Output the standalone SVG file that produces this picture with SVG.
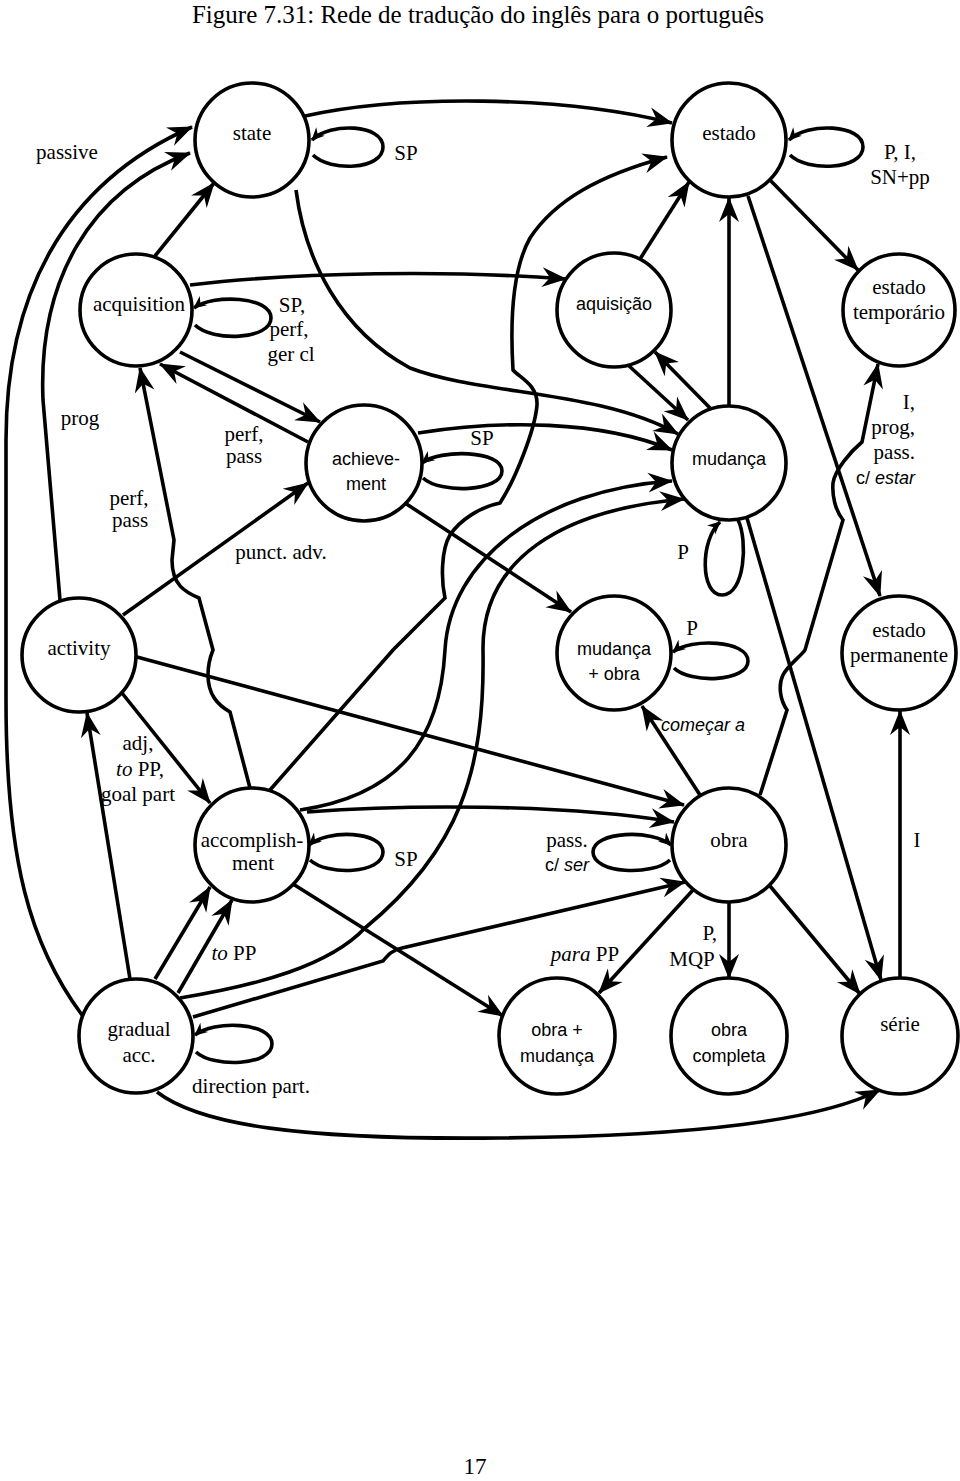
<svg xmlns="http://www.w3.org/2000/svg" width="960" height="1481" viewBox="0 0 960 1481">
<style>
.n{fill:#fff;stroke:#000;stroke-width:3.6}
.e{fill:none;stroke:#000;stroke-width:3.6;marker-end:url(#a)}
.l{fill:none;stroke:#000;stroke-width:3.6;marker-end:url(#s)}
.t{font-family:"Liberation Serif",serif;font-size:21px;text-anchor:middle;fill:#000}
.h{font-family:"Liberation Sans",sans-serif;font-size:18px;text-anchor:middle;fill:#000}
.i{font-style:italic}
</style>
<defs>
<marker id="a" viewBox="-26 -11 28 22" markerWidth="28" markerHeight="22" refX="0" refY="0" orient="auto" markerUnits="userSpaceOnUse"><path d="M1,0 L-24,-10 L-16,0 L-24,10 Z" fill="#000"/></marker>
<marker id="s" viewBox="-14 -7 15 14" markerWidth="15" markerHeight="14" refX="0" refY="0" orient="auto" markerUnits="userSpaceOnUse"><path d="M1,0 L-12,-6 L-8,0 L-12,6 Z" fill="#000"/></marker>
</defs>
<rect width="960" height="1481" fill="#fff"/>
<text x="478" y="23" class="t" style="font-size:25px">Figure 7.31: Rede de tradução do inglês para o português</text>
<text x="475" y="1474" class="t" style="font-size:23px">17</text>

<g id="connectors">
<path class="e" d="M82,1015 C30,945 6,860 6,700 L6,440 C6,300 60,185 192,127"/>
<path class="e" d="M60,600 L43,400 C38,280 90,190 190,153"/>
<path class="e" d="M155,256 L214,183"/>
<path class="e" d="M305,116 C400,95 560,95 672,123"/>
<path class="e" d="M190,285 C300,272 450,270 566,279"/>
<path class="e" d="M270,790 L393,650 L445,598 C441,580 441,550 450,535 C460,520 480,507 500,503 C515,480 535,430 537,405 C538,385 520,378 513,370 C510,320 512,270 530,238 C555,200 600,175 667,157"/>
<path class="e" d="M296,190 C305,260 340,330 410,368 C480,395 600,390 678,434"/>
<path class="e" d="M628,365 L688,420"/>
<path class="e" d="M710,408 L655,352"/>
<path class="e" d="M418,433 C500,420 600,420 672,450"/>
<path class="e" d="M300,810 C400,795 440,740 445,650 C450,560 540,490 672,481"/>
<path class="e" d="M180,998 C260,985 330,965 365,928 C460,850 485,770 483,650 C482,560 560,510 684,499"/>
<path class="e" d="M307,812 C400,805 560,803 674,822"/>
<path class="e" d="M137,657 L684,805"/>
<path class="e" d="M122,693 L210,803"/>
<path class="e" d="M123,615 L308,483"/>
<path class="e" d="M130,979 L87,713"/>
<path class="e" d="M250,788 L230,712 C218,705 208,695 208,675 C208,662 211,655 213,650 L199,598 C185,592 172,585 172,560 L174,540 L140,368"/>
<path class="e" d="M308,442 L160,364"/>
<path class="e" d="M180,352 L320,422"/>
<path class="e" d="M405,503 L571,612"/>
<path class="e" d="M700,795 L642,706"/>
<path class="e" d="M760,795 L787,710 C780,700 778,685 783,675 C788,665 800,657 805,650 L843,520 C835,510 832,495 833,483 C835,470 850,452 862,442 L878,364"/>
<path class="e" d="M747,518 L881,980"/>
<path class="e" d="M748,196 L880,596"/>
<path class="e" d="M770,180 L858,270"/>
<path class="e" d="M640,259 L689,182"/>
<path class="e" d="M729,405 L729,198"/>
<path class="e" d="M729,902 L729,978"/>
<path class="e" d="M770,886 L860,994"/>
<path class="e" d="M900,978 L900,711"/>
<path class="e" d="M693,890 L599,993"/>
<path class="e" d="M193,1017 L383,961 C388,955 392,950 402,948 L685,882"/>
<path class="e" d="M293,884 L503,1016"/>
<path class="e" d="M155,979 L210,887"/>
<path class="e" d="M178,993 L232,900"/>
<path class="e" d="M157,1092 C200,1125 300,1140 500,1138 C700,1136 820,1120 880,1090"/>
<path class="l" d="M313,155 C330,172 383,170 383,147 C383,124 330,122 312,140"/>
<path class="l" d="M790,155 C807,172 863,170 863,147 C863,124 807,122 789,140"/>
<path class="l" d="M195,325 C212,342 271,340 271,318 C271,296 212,294 194,308"/>
<path class="l" d="M423,478 C440,494 502,492 502,471 C502,450 440,449 422,463"/>
<path class="l" d="M310,860 C327,876 383,874 383,852 C383,831 327,829 309,845"/>
<path class="l" d="M196,1052 C213,1068 272,1066 272,1044 C272,1022 213,1020 195,1035"/>
<path class="l" d="M674,668 C690,684 748,682 748,661 C748,640 690,638 673,652"/>
<path class="l" d="M670,860 C653,876 593,874 593,852 C593,831 653,829 671,845"/>
<path class="l" d="M738,520 C748,540 745,595 722,595 C700,595 700,540 720,522"/>
</g>

<g id="state"><circle class="n" cx="252" cy="140" r="57"/><text class="t" x="252" y="140">state</text></g>
<g id="estado"><circle class="n" cx="729" cy="140" r="57"/><text class="t" x="729" y="140">estado</text></g>
<g id="acquisition"><circle class="n" cx="136" cy="310" r="56"/><text class="t" x="139" y="311">acquisition</text></g>
<g id="aquisicao"><circle class="n" cx="614" cy="310" r="57"/><text class="h" x="614" y="310">aquisição</text></g>
<g id="estado-temporario"><circle class="n" cx="899" cy="310" r="56"/><text class="t" x="899" y="294">estado</text><text class="t" x="899" y="319">temporário</text></g>
<g id="achievement"><circle class="n" cx="364" cy="463" r="58"/><text class="h" x="366" y="465">achieve-</text><text class="h" x="366" y="490">ment</text></g>
<g id="mudanca"><circle class="n" cx="729" cy="463" r="57"/><text class="h" x="729" y="465">mudança</text></g>
<g id="activity"><circle class="n" cx="79" cy="655" r="57"/><text class="t" x="79" y="655">activity</text></g>
<g id="mudanca-obra"><circle class="n" cx="614" cy="653" r="57"/><text class="h" x="614" y="655">mudança</text><text class="h" x="614" y="680">+ obra</text></g>
<g id="estado-permanente"><circle class="n" cx="899" cy="653" r="57"/><text class="t" x="899" y="637">estado</text><text class="t" x="899" y="662">permanente</text></g>
<g id="accomplishment"><circle class="n" cx="252" cy="845" r="57"/><text class="t" x="252" y="847">accomplish-</text><text class="t" x="253" y="870">ment</text></g>
<g id="obra"><circle class="n" cx="729" cy="845" r="57"/><text class="t" x="729" y="847">obra</text></g>
<g id="gradual-acc"><circle class="n" cx="136" cy="1036" r="57"/><text class="t" x="139" y="1036">gradual</text><text class="t" x="139" y="1062">acc.</text></g>
<g id="obra-mudanca"><circle class="n" cx="557" cy="1036" r="58"/><text class="h" x="557" y="1036">obra +</text><text class="h" x="557" y="1062">mudança</text></g>
<g id="obra-completa"><circle class="n" cx="729" cy="1036" r="58"/><text class="h" x="729" y="1036">obra</text><text class="h" x="729" y="1062">completa</text></g>
<g id="serie"><circle class="n" cx="900" cy="1036" r="58"/><text class="t" x="900" y="1031">série</text></g>

<g id="labels">
<text class="t" x="67" y="159">passive</text>
<text class="t" x="406" y="160">SP</text>
<text class="t" x="900" y="159">P, I,</text>
<text class="t" x="900" y="184">SN+pp</text>
<text class="t" x="292" y="312">SP,</text>
<text class="t" x="289" y="336">perf,</text>
<text class="t" x="291" y="361">ger cl</text>
<text class="t" x="80" y="425">prog</text>
<text class="t" x="129" y="505">perf,</text>
<text class="t" x="130" y="527">pass</text>
<text class="t" x="244" y="441">perf,</text>
<text class="t" x="244" y="463">pass</text>
<text class="t" x="281" y="559">punct. adv.</text>
<text class="t" x="482" y="445">SP</text>
<text class="t" x="683" y="559">P</text>
<text class="t" x="915" y="409" style="text-anchor:end">I,</text>
<text class="t" x="915" y="434" style="text-anchor:end">prog,</text>
<text class="t" x="915" y="459" style="text-anchor:end">pass.</text>
<text class="h" x="915" y="484" style="text-anchor:end">c/ <tspan class="i">estar</tspan></text>
<text class="t" x="692" y="635">P</text>
<text class="h i" x="703" y="731">começar a</text>
<text class="t" x="138" y="750">adj,</text>
<text class="t" x="140" y="776"><tspan class="i">to</tspan> PP,</text>
<text class="t" x="138" y="801">goal part</text>
<text class="t" x="406" y="866">SP</text>
<text class="t" x="567" y="847">pass.</text>
<text class="h" x="567" y="871">c/ <tspan class="i">ser</tspan></text>
<text class="t" x="917" y="847">I</text>
<text class="t" x="234" y="960"><tspan class="i">to</tspan> PP</text>
<text class="t" x="585" y="961"><tspan class="i">para</tspan> PP</text>
<text class="t" x="717" y="940" style="text-anchor:end">P,</text>
<text class="t" x="692" y="966">MQP</text>
<text class="t" x="251" y="1093">direction part.</text>
</g>
</svg>
